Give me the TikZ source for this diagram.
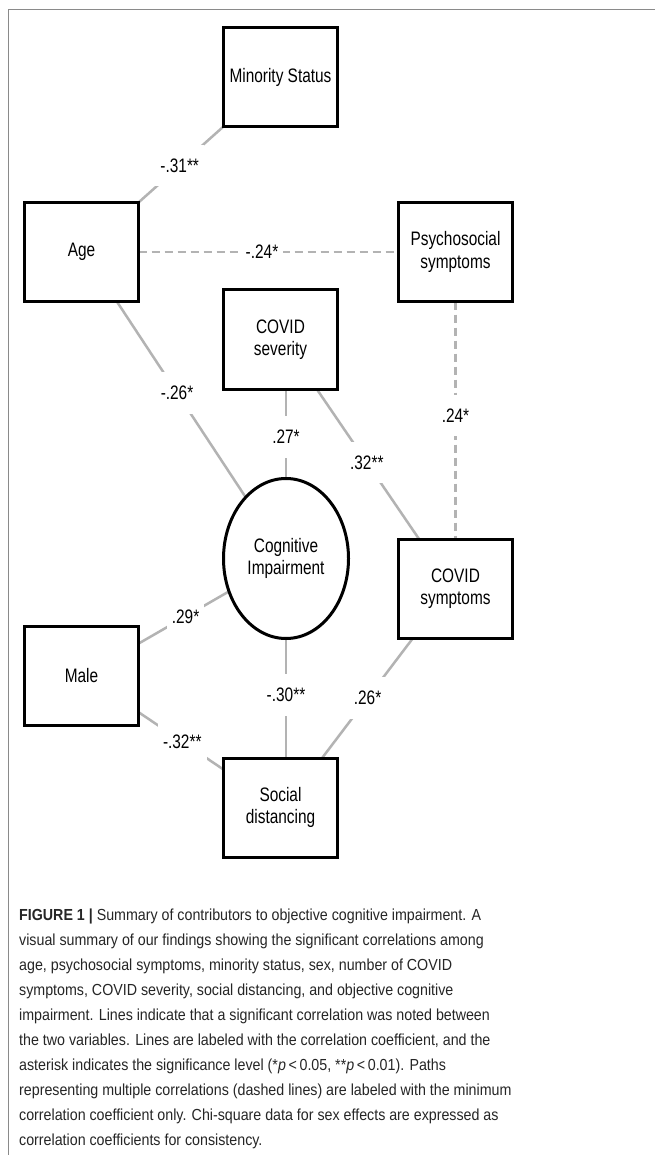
\documentclass[tikz,border=0pt]{standalone}
\usepackage{fontspec}
\newfontfamily\diagfont[FakeStretch=0.79]{Liberation Sans}
\newfontfamily\capfont[FakeStretch=0.89]{Liberation Sans}
\usetikzlibrary{calc,shapes.geometric,shadows,backgrounds}
\definecolor{linkgray}{HTML}{B3B3B3}
\definecolor{framegray}{HTML}{8A8A8A}
\definecolor{captext}{HTML}{262626}
\begin{document}
\begin{tikzpicture}[x=1pt,y=-1pt,
  var/.style={draw=black, line width=3pt, fill=white, rectangle,
    minimum width=114pt, minimum height=99pt, align=center, outer sep=0pt,
    inner sep=0pt, font=\diagfont\fontsize{19.5}{22.5}\selectfont,
    drop shadow={opacity=0.12, shadow xshift=1.2pt, shadow yshift=-1.5pt}},
  latent/.style={var, ellipse, minimum width=125pt, minimum height=160pt},
  link/.style={draw=linkgray, line width=2.5pt},
  dashlink/.style={link, dash pattern=on 8pt off 5pt},
  lab/.style={fill=white, inner xsep=5pt, inner ysep=14pt, text height=13.5pt,
    text depth=0pt, font=\diagfont\fontsize{19.5}{22.5}\selectfont},
  capline/.style={anchor=base west, inner sep=0pt, text=captext,
    font=\capfont\fontsize{16}{25}\selectfont}]
\useasboundingbox (0,0) rectangle (655,1155);

\node[var] (ms) at (280.5,77) {Minority Status};
\node[var] (age) at (81.5,252) {Age};
\node[var] (psy) at (455.5,252) {Psychosocial\\symptoms};
\node[var] (sev) at (280.5,339.5) {COVID\\severity};
\node[latent] (cog) at (286,558.5) {Cognitive\\Impairment};
\node[var] (sym) at (455.5,588.5) {COVID\\symptoms};
\node[var] (male) at (81.5,676) {Male};
\node[var] (soc) at (280.5,807.5) {Social\\distancing};

\begin{pgfonlayer}{background}
\fill[white] (0,0) rectangle (655,1155);
\draw[framegray, line width=1pt] (8.3,1155) -- (8.3,9.3) -- (655,9.3);
\draw[link] (ms.south west) -- node[lab, pos=0.515] {-.31**} (age.north east);
\draw[dashlink] (age.east) -- node[lab, pos=0.475] {-.24*} (psy.west);
\draw[link] ($(age.south)!0.62!(age.south east)$) -- node[lab, pos=0.467] {-.26*} (cog);
\draw[link] (sev.south -| cog.north) -- node[lab, pos=0.535] {.27*} (cog.north);
\draw[link] ($(sev.south)!0.635!(sev.south east)$) -- node[lab, pos=0.49] {.32**} ($(sym.north)!0.64!(sym.north west)$);
\draw[dashlink] (psy.south) -- node[lab, pos=0.479] {.24*} (sym.north);
\draw[link] ($(male.east)!0.654!(male.north east)$) -- node[lab, pos=0.52] {.29*} (cog);
\draw[link] ($(male.east)!0.73!(male.south east)$) -- node[lab, pos=0.515] {-.32**} ($(soc.west)!0.767!(soc.north west)$);
\draw[link] (cog.south) -- node[lab, pos=0.474] {-.30**} (cog.south |- soc.north);
\draw[link] ($(sym.south)!0.745!(sym.south west)$) -- node[lab, pos=0.5] {.26*} ($(soc.north)!0.73!(soc.north east)$);
\end{pgfonlayer}

\node[capline] (c1) at (19,920) {\textbf{FIGURE 1} \textbf{|} Summary of contributors to objective cognitive impairment. A};
\node[capline] (c2) at (19,945) {visual summary of our findings showing the significant correlations among};
\node[capline] (c3) at (19,970) {age, psychosocial symptoms, minority status, sex, number of COVID};
\node[capline] (c4) at (19,995) {symptoms, COVID severity, social distancing, and objective cognitive};
\node[capline] (c5) at (19,1020) {impairment. Lines indicate that a significant correlation was noted between};
\node[capline] (c6) at (19,1045) {the two variables. Lines are labeled with the correlation coefficient, and the};
\node[capline] (c7) at (19,1070) {asterisk indicates the significance level (*\textit{p}\,<\,0.05, **\textit{p}\,<\,0.01). Paths};
\node[capline] (c8) at (19,1095) {representing multiple correlations (dashed lines) are labeled with the minimum};
\node[capline] (c9) at (19,1120) {correlation coefficient only. Chi-square data for sex effects are expressed as};
\node[capline] (c10) at (19,1145) {correlation coefficients for consistency.};
\end{tikzpicture}
\end{document}
